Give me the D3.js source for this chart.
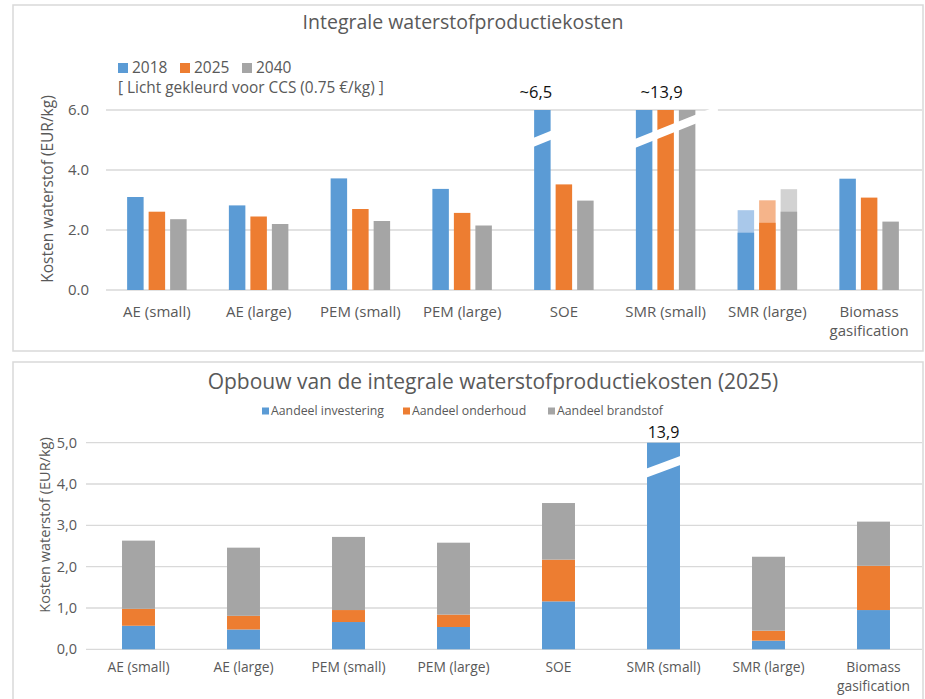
<!DOCTYPE html>
<html>
<head>
<meta charset="utf-8">
<script src="https://cdn.jsdelivr.net/npm/d3@7"></script>
<style>
  body { margin: 0; background: #fff; }
  text { font-family: "Open Sans", sans-serif; fill: #595959; }
</style>
</head>
<body>
<div id="container"></div>
<script>
/* CONSTANTS AND GLOBALS */
const width = 925;
const height = 699;

/* DATA */
const categories = ["AE (small)", "AE (large)", "PEM (small)", "PEM (large)", "SOE", "SMR (small)", "SMR (large)", "Biomass gasification"];
const years = ["2018", "2025", "2040"];
// top chart: integral cost per year (EUR/kg)
const cost2018 = [3.10, 2.82, 3.72, 3.37, 6.5, 13.9, 1.91, 3.71];
const cost2025 = [2.61, 2.45, 2.70, 2.57, 3.52, 13.9, 2.24, 3.08];
const cost2040 = [2.36, 2.20, 2.30, 2.15, 2.98, 13.9, 2.61, 2.28];
// extra cost for CCS (light coloured), only SMR (large)
const ccs2018 = [0, 0, 0, 0, 0, 0, 0.75, 0];
const ccs2025 = [0, 0, 0, 0, 0, 0, 0.75, 0];
const ccs2040 = [0, 0, 0, 0, 0, 0, 0.75, 0];
const topTicks = [0, 2, 4, 6];
const topNotes = [{cat: "SOE", label: "~6,5"}, {cat: "SMR (small)", label: "~13,9"}];

// bottom chart: build-up 2025
const parts = ["Aandeel investering", "Aandeel onderhoud", "Aandeel brandstof"];
const investering = [0.57, 0.48, 0.66, 0.54, 1.16, 13.9, 0.21, 0.95];
const onderhoud   = [0.41, 0.33, 0.29, 0.30, 1.01, 0,    0.24, 1.07];
const brandstof   = [1.65, 1.65, 1.77, 1.74, 1.37, 0,    1.79, 1.07];
const bottomTicks = [0, 1, 2, 3, 4, 5];
const bottomNotes = [{cat: "SMR (small)", label: "13,9"}];

const colors = {"2018": "#5b9bd5", "2025": "#ed7d31", "2040": "#a5a5a5"};
const lightColors = {"2018": "#a9c8ea", "2025": "#f5b48a", "2040": "#d2d2d2"};
const partColors = ["#5b9bd5", "#ed7d31", "#a5a5a5"];
const gridColor = "#d9d9d9";

const svg = d3.select("#container").append("svg")
  .attr("width", width).attr("height", height);

// panel frames
svg.append("rect").attr("x", 13).attr("y", 5).attr("width", 910).attr("height", 346)
  .attr("fill", "none").attr("stroke", gridColor).attr("stroke-width", 1.5);
svg.append("rect").attr("x", 13).attr("y", 362).attr("width", 910).attr("height", 345)
  .attr("fill", "none").attr("stroke", gridColor).attr("stroke-width", 1.5);

function wrapLabel(sel, lineH) {
  sel.each(function(d) {
    const t = d3.select(this);
    const words = d === "Biomass gasification" ? ["Biomass", "gasification"] : [d];
    t.text(null);
    words.forEach((w, i) => t.append("tspan").attr("x", t.attr("x")).attr("dy", i ? lineH : 0).text(w));
  });
}

/* ---------- TOP CHART ---------- */
{
  const topData = categories.map((c, i) => ({
    cat: c,
    vals: [
      {year: "2018", v: cost2018[i], ccs: ccs2018[i]},
      {year: "2025", v: cost2025[i], ccs: ccs2025[i]},
      {year: "2040", v: cost2040[i], ccs: ccs2040[i]}
    ]
  }));

  const x0 = d3.scaleBand().domain(categories).range([106, 920]);
  const x1 = d3.scaleBand().domain(years).range([-29.75, 29.75]).paddingInner(0.233);
  const y = d3.scaleLinear().domain([0, 6]).range([290, 110]);
  const cx = c => x0(c) + x0.bandwidth() / 2;

  svg.append("text").attr("x", 463).attr("y", 29).attr("text-anchor", "middle")
    .style("font-size", "19.5px").text("Integrale waterstofproductiekosten");

  // grid + ticks
  const g = svg.append("g");
  g.selectAll("line.grid").data(topTicks).join("line")
    .attr("x1", 106).attr("x2", 922)
    .attr("y1", d => y(d)).attr("y2", d => y(d))
    .attr("stroke", gridColor).attr("stroke-width", 1.3);
  g.selectAll("text.tick").data(topTicks).join("text")
    .attr("x", 89).attr("y", d => y(d)).attr("dy", "0.35em")
    .attr("text-anchor", "end").style("font-size", "15px")
    .text(d => d3.format(".1f")(d));

  svg.append("text")
    .attr("transform", `translate(53,189) rotate(-90)`)
    .attr("text-anchor", "middle").style("font-size", "15.5px")
    .text("Kosten waterstof (EUR/kg)");

  // bars
  const groups = svg.append("g").selectAll("g").data(topData).join("g")
    .attr("transform", d => `translate(${cx(d.cat)},0)`);
  groups.selectAll("rect.ccs").data(d => d.vals.filter(v => v.ccs > 0)).join("rect")
    .attr("x", d => x1(d.year)).attr("width", x1.bandwidth())
    .attr("y", d => y(Math.min(6, d.v + d.ccs)))
    .attr("height", d => y(0) - y(Math.min(6, d.v + d.ccs)))
    .attr("fill", d => lightColors[d.year]);
  groups.selectAll("rect.main").data(d => d.vals).join("rect")
    .attr("x", d => x1(d.year)).attr("width", x1.bandwidth())
    .attr("y", d => y(Math.min(6, d.v)))
    .attr("height", d => y(0) - y(Math.min(6, d.v)))
    .attr("fill", d => colors[d.year]);

  // axis labels
  svg.append("g").selectAll("text").data(categories).join("text")
    .attr("x", d => cx(d)).attr("y", 317).attr("text-anchor", "middle")
    .style("font-size", "15px").call(wrapLabel, 19);

  // break marks (white slanted gaps)
  const breakPath = (xa, xb, yTop, offA) => {
    const s = -0.4, th = 9;
    const ya = yTop + offA, yb = ya + s * (xb - xa);
    return `M${xa},${ya}L${xb},${yb}L${xb},${yb + th}L${xa},${ya + th}Z`;
  };
  const soeL = cx("SOE") + x1("2018");
  svg.append("path").attr("d", breakPath(soeL - 1, soeL + x1.bandwidth() + 1, y(6), 28)).attr("fill", "#fff");
  const smrL = cx("SMR (small)") + x1("2018");
  svg.append("path").attr("d", breakPath(smrL - 1, smrL + 82, y(6), 29)).attr("fill", "#fff");

  const noteDx = {"SOE": -28, "SMR (small)": -4};
  svg.append("g").selectAll("text").data(topNotes).join("text")
    .attr("x", d => cx(d.cat) + noteDx[d.cat]).attr("y", 98).attr("text-anchor", "middle")
    .style("font-size", "16.5px").style("fill", "#111").text(d => d.label);

  // legend
  const leg = svg.append("g").attr("transform", "translate(118,68)");
  const li = leg.selectAll("g").data(years).join("g")
    .attr("transform", (d, i) => `translate(${i * 62},0)`);
  li.append("rect").attr("x", 0).attr("y", -5).attr("width", 10).attr("height", 10)
    .attr("fill", d => colors[d]);
  li.append("text").attr("x", 14).attr("y", 0).attr("dy", "0.35em")
    .style("font-size", "15.5px").text(d => d);
  leg.append("text").attr("x", 0).attr("y", 20).attr("dy", "0.35em")
    .style("font-size", "15.4px").text("[ Licht gekleurd voor CCS (0.75 €/kg) ]");
}

/* ---------- BOTTOM CHART ---------- */
{
  const rows = categories.map((c, i) => ({
    cat: c, inv: investering[i], ond: onderhoud[i], brand: brandstof[i]
  }));
  const stack = d3.stack().keys(["inv", "ond", "brand"]);
  const series = stack(rows);

  const x = d3.scaleBand().domain(categories).range([86, 926]).paddingInner(0.686).paddingOuter(0.343);
  const y = d3.scaleLinear().domain([0, 5]).range([649.3, 442.7]);
  const cx = c => x(c) + x.bandwidth() / 2;

  svg.append("text").attr("x", 493).attr("y", 389).attr("text-anchor", "middle")
    .style("font-size", "21px").text("Opbouw van de integrale waterstofproductiekosten (2025)");

  const g = svg.append("g");
  g.selectAll("line").data(bottomTicks).join("line")
    .attr("x1", 86).attr("x2", 922)
    .attr("y1", d => y(d)).attr("y2", d => y(d))
    .attr("stroke", gridColor).attr("stroke-width", 1.3);
  g.selectAll("text").data(bottomTicks).join("text")
    .attr("x", 77).attr("y", d => y(d)).attr("dy", "0.35em")
    .attr("text-anchor", "end").style("font-size", "14.5px")
    .text(d => d3.format(".1f")(d).replace(".", ","));

  svg.append("text")
    .attr("transform", `translate(50,525) rotate(-90)`)
    .attr("text-anchor", "middle").style("font-size", "14.5px")
    .text("Kosten waterstof (EUR/kg)");

  svg.append("g").selectAll("g").data(series).join("g")
    .attr("fill", (d, i) => partColors[i])
    .selectAll("rect").data(d => d.map(s => ({s, cat: s.data.cat}))).join("rect")
    .attr("x", d => x(d.cat)).attr("width", x.bandwidth())
    .attr("y", d => y(Math.min(5, d.s[1])))
    .attr("height", d => Math.max(0, y(Math.min(5, d.s[0])) - y(Math.min(5, d.s[1]))));

  svg.append("g").selectAll("text").data(categories).join("text")
    .attr("x", d => cx(d)).attr("y", 672).attr("text-anchor", "middle")
    .style("font-size", "13.8px").call(wrapLabel, 19);

  // break on SMR (small)
  const xa = x("SMR (small)") - 1, xb = xa + x.bandwidth() + 2;
  const ya = y(5) + 26, yb = ya - 0.37 * (xb - xa);
  svg.append("path").attr("d", `M${xa},${ya}L${xb},${yb}L${xb},${yb + 9}L${xa},${ya + 9}Z`).attr("fill", "#fff");

  svg.append("g").selectAll("text").data(bottomNotes).join("text")
    .attr("x", d => cx(d.cat)).attr("y", 438).attr("text-anchor", "middle")
    .style("font-size", "16px").style("fill", "#111").text(d => d.label);

  // legend
  const leg = svg.append("g").attr("transform", "translate(262,411)");
  const offs = [0, 141, 286];
  const li = leg.selectAll("g").data(parts).join("g")
    .attr("transform", (d, i) => `translate(${offs[i]},0)`);
  li.append("rect").attr("x", 0).attr("y", -3.5).attr("width", 7).attr("height", 7)
    .attr("fill", (d, i) => partColors[i]);
  li.append("text").attr("x", 9).attr("y", 0).attr("dy", "0.35em")
    .style("font-size", "12.3px").text(d => d);
}
</script>
</body>
</html>
